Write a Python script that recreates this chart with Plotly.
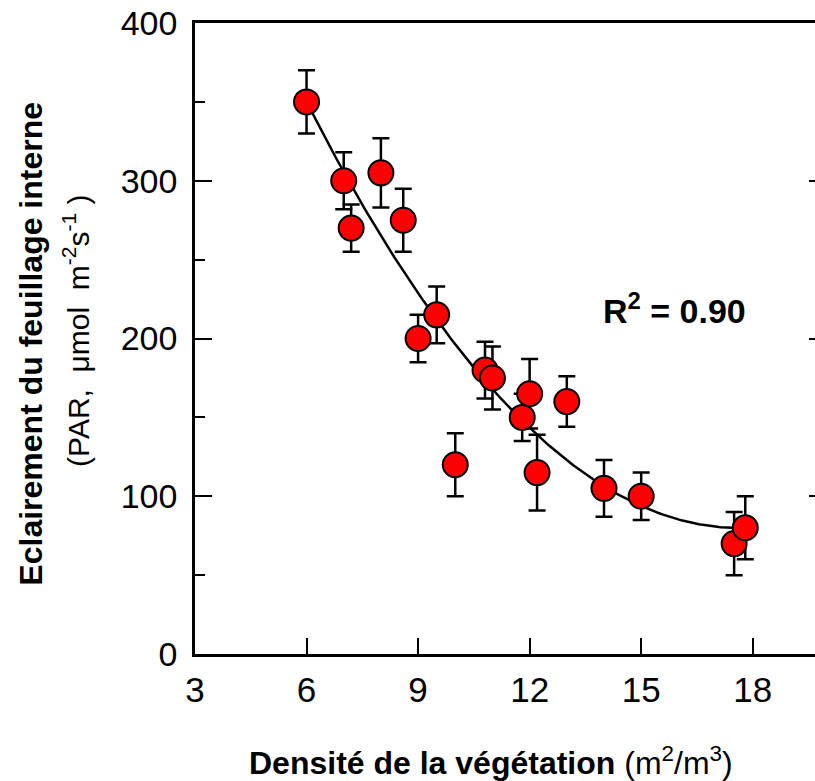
import numpy as np
import plotly.graph_objects as go

# Canopy density (m2/m3) and internal foliage PAR (umol m-2 s-1), mean +/- error
density = [6.0, 7.0, 7.2, 8.0, 8.6, 9.0, 9.5, 10.0, 10.8, 11.0, 11.8, 12.0, 12.2, 13.0, 14.0, 15.0, 17.5, 17.8]
par = [350, 300, 270, 305, 275, 200, 215, 120, 180, 175, 150, 165, 115, 160, 105, 100, 70, 80]
par_err = [20, 18, 15, 22, 20, 15, 18, 20, 18, 20, 15, 22, 24, 16, 18, 15, 20, 20]

# Second-order regression: PAR = a + b*d + c*d^2
fit_coeffs = [700.0, -70.29, 1.992]
fit_span = [6.0, 17.8]
r2_text = "0.90"

x_ticks = [3, 6, 9, 12, 15, 18]
y_ticks = [0, 100, 200, 300, 400]
y_minor = [50, 150, 250, 350]

FONT = "Arial, 'Liberation Sans', sans-serif"

d_fit = np.linspace(fit_span[0], fit_span[1], 200)
par_fit = fit_coeffs[0] + fit_coeffs[1] * d_fit + fit_coeffs[2] * d_fit ** 2

fig = go.Figure()
fig.add_trace(go.Scatter(
    x=d_fit, y=par_fit, mode="lines",
    line=dict(color="black", width=2.5),
    hoverinfo="skip", showlegend=False,
))
fig.add_trace(go.Scatter(
    x=density, y=par, mode="markers",
    marker=dict(size=25, color="#FF0000", line=dict(color="black", width=2)),
    error_y=dict(type="data", array=par_err, visible=True,
                 color="black", thickness=2.5, width=8.5),
    showlegend=False,
))
# empty trace so the right-hand tick axis is drawn
fig.add_trace(go.Scatter(x=[], y=[], yaxis="y2", showlegend=False))

fig.update_layout(
    width=815, height=781,
    margin=dict(l=195, r=0, t=23, b=127),
    paper_bgcolor="white", plot_bgcolor="white",
    font=dict(family=FONT, color="black"),
    xaxis=dict(
        range=[3, 19.675], tickvals=x_ticks,
        ticks="inside", ticklen=16, tickwidth=2, tickcolor="black",
        showline=True, linewidth=2.5, linecolor="black", mirror=True,
        showgrid=False, zeroline=False,
        tickfont=dict(size=35, family=FONT, color="black"),
        ticklabelstandoff=3,
    ),
    yaxis=dict(
        range=[0, 400], tickvals=y_ticks,
        ticks="inside", ticklen=17, tickwidth=2, tickcolor="black",
        minor=dict(tickvals=y_minor, ticks="inside", ticklen=10,
                   tickwidth=2, tickcolor="black"),
        showline=True, linewidth=2.5, linecolor="black",
        showgrid=False, zeroline=False,
        tickfont=dict(size=34, family=FONT, color="black"),
        ticklabelstandoff=8,
    ),
    yaxis2=dict(
        range=[0, 400], overlaying="y", side="right", anchor="free", position=1,
        tickvals=[100, 200, 300], ticks="inside", ticklen=6, tickwidth=2,
        tickcolor="black", showticklabels=False, showline=False,
        showgrid=False, zeroline=False,
    ),
)

fig.add_annotation(
    text="<b>Densité de la végétation</b> (m<sup>2</sup>/m<sup>3</sup>)",
    xref="paper", yref="paper", x=0.477, y=-0.169,
    xanchor="center", yanchor="middle", showarrow=False,
    font=dict(size=32, family=FONT, color="black"),
)
fig.add_annotation(
    text="<b>Eclairement du feuillage interne</b>",
    xref="paper", yref="paper", x=-0.266, y=0.492, textangle=-90,
    xanchor="center", yanchor="middle", showarrow=False,
    font=dict(size=32, family=FONT, color="black"),
)
fig.add_annotation(
    text="(PAR,  μmol  m<sup>-2</sup>s<sup>-1</sup> )",
    xref="paper", yref="paper", x=-0.192, y=0.512, textangle=-90,
    xanchor="center", yanchor="middle", showarrow=False,
    font=dict(size=30, family=FONT, color="black"),
)
fig.add_annotation(
    text="<b>R<sup>2</sup> = " + r2_text + "</b>",
    xref="x", yref="y", x=15.9, y=219,
    xanchor="center", yanchor="middle", showarrow=False,
    font=dict(size=34, family=FONT, color="black"),
)

fig.write_html("out.html")
